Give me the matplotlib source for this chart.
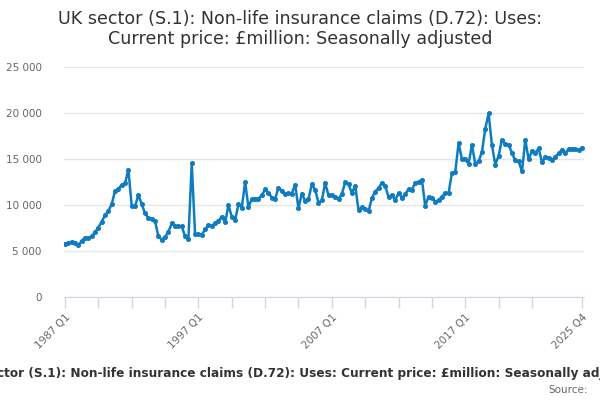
import matplotlib
matplotlib.use("Agg")
import matplotlib.pyplot as plt
from matplotlib.ticker import FuncFormatter

# quarterly periods 1987 Q1 .. 2025 Q4
quarters = [f"{y} Q{q}" for y in range(1987, 2026) for q in range(1, 5)]

# £million
claims = [
    5800, 5900, 6000, 5900, 5650, 6100, 6450, 6400, 6600, 7050,
    7550, 8200, 8900, 9350, 10100, 11500, 11750, 12200, 12350, 13850,
    9900, 9850, 11100, 10100, 9100, 8600, 8500, 8250, 6600, 6250,
    6500, 7100, 8000, 7700, 7700, 7700, 6600, 6350, 14550, 6800,
    6800, 6750, 7350, 7800, 7750, 8000, 8250, 8750, 8100, 9950,
    8750, 8350, 10100, 9700, 12500, 9750, 10650, 10700, 10700, 11050,
    11700, 11350, 10800, 10650, 11900, 11550, 11150, 11300, 11250, 12200,
    9650, 11250, 10450, 10650, 12250, 11650, 10250, 10500, 12400, 11050,
    11050, 10900, 10650, 11200, 12450, 12250, 11300, 12100, 9450, 9750,
    9550, 9300, 10750, 11450, 11850, 12400, 12100, 10850, 11050, 10550,
    11300, 10800, 11150, 11750, 11650, 12400, 12500, 12750, 9900, 10900,
    10800, 10350, 10550, 10900, 11300, 11300, 13500, 13550, 16750, 14950,
    15000, 14450, 16550, 14450, 14750, 15750, 18300, 19950, 16500, 14400,
    15350, 17100, 16650, 16550, 15650, 14850, 14750, 13650, 17100, 14950,
    15900, 15650, 16150, 14650, 15200, 15100, 14850, 15250, 15600, 16000,
    15650, 16100, 16100, 16100, 15950, 16250,
]

label_quarters = ["1987 Q1", "1997 Q1", "2007 Q1", "2017 Q1", "2025 Q4"]
y_ticks = [0, 5000, 10000, 15000, 20000, 25000]

title = "UK sector (S.1): Non-life insurance claims (D.72): Uses:\nCurrent price: £million: Seasonally adjusted"
caption = "UK sector (S.1): Non-life insurance claims (D.72): Uses: Current price: £million: Seasonally adjusted"

blue = "#0f7cc2"
grey = "#666666"

fig = plt.figure(figsize=(6, 4), dpi=100)
ax = fig.add_axes([64 / 600, 1 - 297 / 400, 520 / 600, 230 / 400])

x = list(range(len(quarters)))
ax.plot(x, claims, color=blue, lw=1.8, marker="o", ms=2.6, mec=blue, mfc=blue)

ax.set_xlim(-0.3, len(quarters) - 1 + 0.6)
ax.set_ylim(0, 25000)

# y axis: grid only, labels with space as thousands separator
ax.set_yticks(y_ticks)
ax.yaxis.set_major_formatter(FuncFormatter(lambda v, p: f"{int(v):,}".replace(",", " ")))
ax.tick_params(axis="y", length=0, pad=16, labelsize=7.5, labelcolor=grey)
ax.grid(axis="y", color="#e6e6e6", lw=1)
ax.set_axisbelow(True)

# x axis: small ticks every 10 quarters, labels on a few
tick_pos = list(range(0, 150, 10)) + [len(quarters) - 1]
ax.set_xticks(tick_pos)
ax.set_xticklabels([quarters[i] if quarters[i] in label_quarters else "" for i in tick_pos],
                   rotation=45, ha="right", rotation_mode="anchor")
ax.tick_params(axis="x", length=8, width=1, color="#ccd6eb", labelsize=7.5,
               labelcolor=grey, pad=3)

for s in ["top", "right", "left"]:
    ax.spines[s].set_visible(False)
ax.spines["bottom"].set_color("#ccd6eb")

fig.text(0.5, 1 - 29 / 400, title, ha="center", va="center", fontsize=12.6, color="#333333",
         linespacing=1.2)
# caption is wider than the figure in the reference too, so it is cut at both sides
fig.text(0.5, 1 - 374 / 400, caption, ha="center", va="center", fontsize=8.7,
         fontweight="bold", color="#333333")
fig.text(588 / 600, 1 - 390 / 400, "Source:", ha="right", va="center", fontsize=7.5,
         color=grey)

fig.savefig("out.png", dpi=100)
